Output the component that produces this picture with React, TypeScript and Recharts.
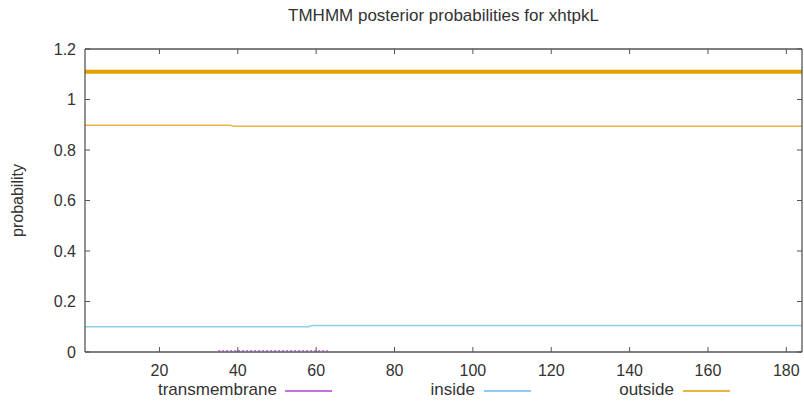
import React from 'react';
import { LineChart, Line, XAxis, YAxis, Label } from 'recharts';

const title = 'TMHMM posterior probabilities for xhtpkL';
const yLabel = 'probability';

// sequence positions / probabilities (breakpoints)
const topologyPos = [1, 184];
const topologyVal = [1.11, 1.11];
const outsidePos = [1, 38, 39, 184];
const outsideVal = [0.898, 0.898, 0.894, 0.894];
const insidePos = [1, 58, 59, 184];
const insideVal = [0.1, 0.1, 0.105, 0.105];
const tmPos = [35, 63];
const tmVal = [0.005, 0.005];

const xTicks = [20, 40, 60, 80, 100, 120, 140, 160, 180];
const yTicks = [0, 0.2, 0.4, 0.6, 0.8, 1, 1.2];
const yTickLabels = ['0', '0.2', '0.4', '0.6', '0.8', '1', '1.2'];
const xDomain = [1, 184];
const yDomain = [0, 1.2];

const legendItems = [
  { name: 'transmembrane', color: '#c46fe6' },
  { name: 'inside', color: '#8ccdf0' },
  { name: 'outside', color: '#ecb445' },
];

const toData = (xs: number[], ys: number[]) => xs.map((x, i) => ({ pos: x, v: ys[i] }));

const FONT = '"Liberation Sans", Arial, Helvetica, sans-serif';
const AXIS = '#555555';
const TXT = '#333333';

export default function App() {
  const tickStyle = { fontSize: 16, fill: TXT, fontFamily: FONT };
  return (
    <div style={{ position: 'absolute', left: 0, top: 0, width: 804, height: 403, background: '#fff', fontFamily: FONT }}>
      <LineChart width={804} height={403} margin={{ top: 48, right: 1, bottom: 21, left: 0 }}>
        <XAxis
          dataKey="pos"
          type="number"
          domain={xDomain}
          ticks={xTicks}
          allowDataOverflow
          height={30}
          tickSize={-5}
          tickMargin={18}
          tick={tickStyle}
          axisLine={{ stroke: AXIS, strokeWidth: 1.3 }}
          tickLine={{ stroke: AXIS }}
        />
        <XAxis
          xAxisId="top"
          orientation="top"
          dataKey="pos"
          type="number"
          domain={xDomain}
          ticks={xTicks}
          allowDataOverflow
          height={1}
          tickSize={-5}
          tickFormatter={() => ''}
          axisLine={{ stroke: AXIS, strokeWidth: 1.3 }}
          tickLine={{ stroke: AXIS }}
        />
        <YAxis
          type="number"
          domain={yDomain}
          ticks={yTicks}
          allowDataOverflow
          width={85}
          tickSize={-5}
          tickMargin={14}
          tick={tickStyle}
          tickFormatter={(v: number) => yTickLabels[yTicks.indexOf(v)] ?? String(v)}
          axisLine={{ stroke: AXIS, strokeWidth: 1.3 }}
          tickLine={{ stroke: AXIS }}
        >
          <Label
            value={yLabel}
            angle={-90}
            position="insideLeft"
            offset={17}
            style={{ fontSize: 16, fill: TXT, fontFamily: FONT, textAnchor: 'middle' }}
          />
        </YAxis>
        <YAxis
          yAxisId="right"
          orientation="right"
          type="number"
          domain={yDomain}
          ticks={yTicks}
          allowDataOverflow
          width={1}
          tickSize={-5}
          tickFormatter={() => ''}
          axisLine={{ stroke: AXIS, strokeWidth: 1.3 }}
          tickLine={{ stroke: AXIS }}
        />
        <Line
          data={toData(insidePos, insideVal)}
          dataKey="v"
          type="linear"
          stroke="#8ccdf0"
          strokeWidth={1.5}
          dot={false}
          activeDot={false}
          isAnimationActive={false}
        />
        <Line
          data={toData(outsidePos, outsideVal)}
          dataKey="v"
          type="linear"
          stroke="#ecb445"
          strokeWidth={1.5}
          dot={false}
          activeDot={false}
          isAnimationActive={false}
        />
        <Line
          data={toData(tmPos, tmVal)}
          dataKey="v"
          type="linear"
          stroke="#c46fe6"
          strokeWidth={1.6}
          strokeDasharray="2 2"
          dot={false}
          activeDot={false}
          isAnimationActive={false}
        />
        <Line
          data={toData(topologyPos, topologyVal)}
          dataKey="v"
          type="linear"
          stroke="#e69f00"
          strokeWidth={4}
          dot={false}
          activeDot={false}
          isAnimationActive={false}
        />
      </LineChart>
      <div
        style={{
          position: 'absolute',
          left: 0,
          width: 804,
          top: 6,
          paddingLeft: 83,
          boxSizing: 'border-box',
          textAlign: 'center',
          fontSize: 17,
          color: TXT,
          whiteSpace: 'nowrap',
        }}
      >
        {title}
      </div>
      {legendItems.map((it, i) => {
        const textRight = [277, 475, 674][i];
        const lineLeft = [285, 484, 683][i];
        return (
          <React.Fragment key={it.name}>
            <div
              style={{
                position: 'absolute',
                top: 380,
                right: 804 - textRight,
                fontSize: 17,
                lineHeight: '20px',
                color: TXT,
                whiteSpace: 'nowrap',
              }}
            >
              {it.name}
            </div>
            <div
              style={{
                position: 'absolute',
                top: 390,
                left: lineLeft,
                width: 47,
                height: 2,
                background: it.color,
              }}
            />
          </React.Fragment>
        );
      })}
    </div>
  );
}
